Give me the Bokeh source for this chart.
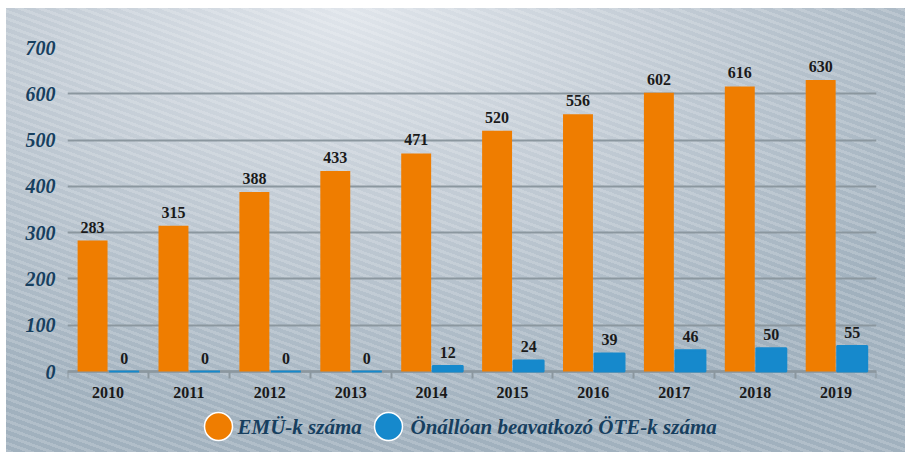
from bokeh.plotting import figure
from bokeh.models import FixedTicker, Range1d, Legend, LegendItem, ColumnDataSource, LabelSet, Label
from bokeh.embed import file_html
from bokeh.resources import INLINE

years = ["2010", "2011", "2012", "2013", "2014", "2015", "2016", "2017", "2018", "2019"]
emu = [283, 315, 388, 433, 471, 520, 556, 602, 616, 630]
ote = [0, 0, 0, 0, 12, 24, 39, 46, 50, 55]
y_ticks = [0, 100, 200, 300, 400, 500, 600, 700]
series_names = ["EMÜ-k száma", "Önállóan beavatkozó ÖTE-k száma"]

ORANGE = "#ef7d00"
BLUE = "#1689cc"
NAVY = "#173f5f"
GRID = "#8b979f"
FONT = "Liberation Serif"

idx = list(range(len(years)))
src = ColumnDataSource(dict(
    x_emu=[i + 0.31 for i in idx],
    x_ote=[i + 0.70 for i in idx],
    emu=emu, ote=ote,
    emu_lbl=[str(v) for v in emu],
    ote_lbl=[str(v) for v in ote],
))

# frame extends below zero so the legend can sit inside it
p = figure(width=899, height=444, x_range=Range1d(0, len(years)), y_range=Range1d(-175, 700),
           output_backend="svg", toolbar_location=None,
           min_border_left=61, min_border_right=29, min_border_top=39, min_border_bottom=0)
p.styles = {
    "margin-top": "8px",
    "margin-left": "6px",
    "background-image": (
        "repeating-linear-gradient(20deg, rgba(255,255,255,0.17) 0px, rgba(255,255,255,0.17) 3px, "
        "rgba(255,255,255,0) 3px, rgba(255,255,255,0) 7px), "
        "radial-gradient(ellipse 75% 95% at 38% 0%, #e0e5eb 0%, #c4cdd6 45%, #a1b1be 100%)"
    )
}
p.border_fill_alpha = 0
p.background_fill_alpha = 0
p.outline_line_color = None

p.vbar(x="x_emu", top="emu", bottom=0, width=0.37, source=src, fill_color=ORANGE,
       line_color=None, level="overlay")
p.vbar(x="x_ote", top="ote", bottom=0, width=0.37, source=src, fill_color=BLUE,
       line_color=BLUE, line_width=2, level="overlay")

for xcol, lcol, ycol in (("x_emu", "emu_lbl", "emu"), ("x_ote", "ote_lbl", "ote")):
    p.add_layout(LabelSet(x=xcol, y=ycol, text=lcol, source=src, text_align="center",
                          text_baseline="bottom", y_offset=8, text_font=FONT,
                          text_font_style="bold", text_font_size="16px", text_color="#1a1a1a"))

# grid
p.xgrid.visible = False
p.ygrid.ticker = FixedTicker(ticks=y_ticks)
p.ygrid.grid_line_color = GRID
p.ygrid.grid_line_width = 2

# y axis
p.yaxis.ticker = FixedTicker(ticks=y_ticks)
p.yaxis.axis_line_color = None
p.yaxis.major_tick_line_color = None
p.yaxis.minor_tick_line_color = None
p.yaxis.major_tick_out = 0
p.yaxis.major_label_standoff = 12
p.yaxis.major_label_text_font = FONT
p.yaxis.major_label_text_font_style = "bold italic"
p.yaxis.major_label_text_font_size = "20px"
p.yaxis.major_label_text_color = NAVY

# x axis, fixed at y = 0
centers = [i + 0.5 for i in idx]
p.xaxis.fixed_location = 0
p.xaxis.ticker = FixedTicker(ticks=centers, minor_ticks=list(range(len(years) + 1)))
p.xaxis.major_label_overrides = {c: y for c, y in zip(centers, years)}
p.xaxis.axis_line_color = GRID
p.xaxis.axis_line_width = 2.5
p.xaxis.major_tick_line_color = None
p.xaxis.major_tick_out = 0
p.xaxis.minor_tick_line_color = GRID
p.xaxis.minor_tick_line_width = 2
p.xaxis.minor_tick_out = 7
p.xaxis.minor_tick_in = 0
p.xaxis.major_label_standoff = 8
p.xaxis.major_label_text_font = FONT
p.xaxis.major_label_text_font_style = "bold"
p.xaxis.major_label_text_font_size = "16px"
p.xaxis.major_label_text_color = "#1a1a1a"

# legend: circle swatches from a Legend, names as labels beside them
r1 = p.scatter(x="x_emu", y="emu", source=src, marker="circle", size=0,
               fill_color=ORANGE, line_color="white", line_width=1.5)
r2 = p.scatter(x="x_ote", y="ote", source=src, marker="circle", size=0,
               fill_color=BLUE, line_color="white", line_width=1.5)
legend = Legend(items=[LegendItem(label="", renderers=[r1]),
                       LegendItem(label="", renderers=[r2])],
                location=(116, -9), orientation="horizontal",
                glyph_width=70, glyph_height=70, label_standoff=0, label_width=0, spacing=100,
                padding=0, margin=0, background_fill_alpha=0, border_line_color=None,
                label_text_font_size="1px")
p.add_layout(legend, "center")

for name, sx in zip(series_names, (170, 343)):
    p.add_layout(Label(x=sx, y=26, x_units="screen", y_units="screen", text=name,
                       text_align="left", text_baseline="middle", text_font=FONT,
                       text_font_style="bold italic", text_font_size="21px", text_color=NAVY))

open("out.html", "w").write(file_html(p, INLINE))
